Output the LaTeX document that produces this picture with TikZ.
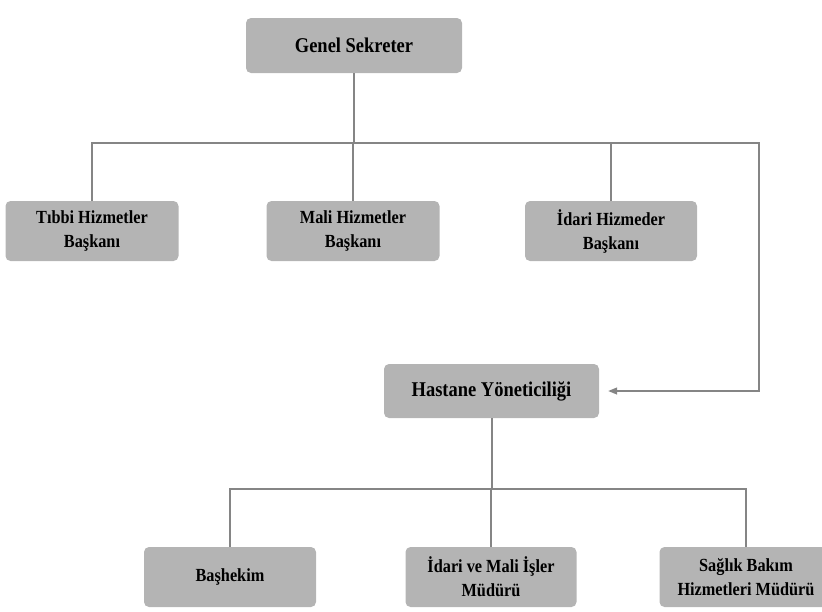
\documentclass[tikz,border=0pt]{standalone}
\usepackage{fontspec}
\setmainfont{Liberation Serif}[FakeStretch=0.88]
\usetikzlibrary{arrows.meta}
\definecolor{boxgray}{HTML}{B4B4B4}
\definecolor{linegray}{HTML}{858585}
\tikzset{
  unit/.style={fill=boxgray, rounded corners=5pt, inner sep=0pt, align=center,
    font=\bfseries\fontsize{18.5}{24}\selectfont, text=black},
  topunit/.style={unit, font=\bfseries\fontsize{21}{24}\selectfont},
  conn/.style={draw=linegray, line width=1.3pt},
  arrowconn/.style={conn, -{Triangle[length=9pt,width=7pt]}, shorten >=9pt}
}
\begin{document}
\begin{tikzpicture}[x=1pt,y=-1pt]
\useasboundingbox (0,0) rectangle (822,611);

% Top level
\node[topunit, minimum width=216pt, minimum height=55pt] (gs) at (354,45.5) {Genel Sekreter};

% Second level
\node[unit, minimum width=173pt, minimum height=60pt] (t1) at (92,231) {Tıbbi Hizmetler\\Başkanı};
\node[unit, minimum width=173pt, minimum height=60pt] (t2) at (353,231) {Mali Hizmetler\\Başkanı};
\node[unit, minimum width=172pt, minimum height=60pt] (t3) at (611,231) {İdari Hizmeder\\Başkanı};

% Hospital management
\node[topunit, minimum width=215pt, minimum height=54pt] (hy) at (491.5,391) {Hastane Yöneticiliği};

% Bottom level
\node[unit, minimum width=172pt, minimum height=60pt] (b1) at (230,577) {Başhekim};
\node[unit, minimum width=171pt, minimum height=60pt] (b2) at (491,577) {İdari ve Mali İşler\\Müdürü};
\node[unit, minimum width=173pt, minimum height=60pt] (b3) at (746,577) {Sağlık Bakım\\Hizmetleri Müdürü};

% Upper bus
\coordinate (j) at (354,143);
\coordinate (r) at (759,143);
\draw[conn] (gs.south) -- (j);
\draw[conn] (t1.north) |- (j);
\draw[conn] (j) -| (t3.north);
\draw[conn] (t2.north) -- (t2.north |- j);
\draw[arrowconn] (t3.north |- j) -- (r) |- (hy.east);

% Lower bus
\coordinate (k) at (492,489);
\draw[conn] (hy.south -| k) -- (k);
\draw[conn] (b1.north) |- (k);
\draw[conn] (k) -| (b3.north);
\draw[conn] (b2.north) -- (b2.north |- k);
\end{tikzpicture}
\end{document}
